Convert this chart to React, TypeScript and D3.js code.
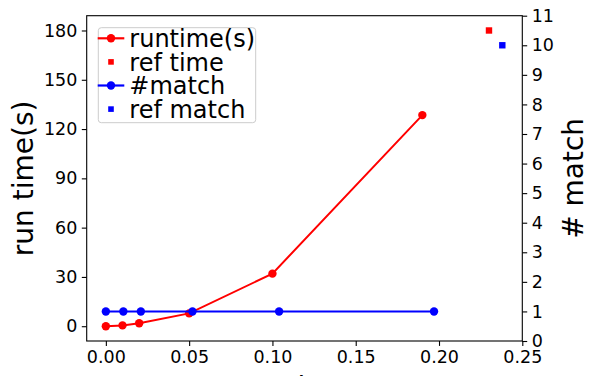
import { useEffect, useRef } from "react";
import * as d3 from "d3";

// runtime series (left axis)
const runtimeX = [0, 0.01, 0.02, 0.05, 0.1, 0.19];
const runtimeY = [0, 0.5, 1.8, 7.8, 32, 128.5];
// #match series (right axis)
const matchX = [0, 0.0105, 0.021, 0.052, 0.104, 0.197];
const matchY = [1, 1, 1, 1, 1, 1];
// reference points
const refTimeX = [0.23];
const refTimeY = [180];
const refMatchX = [0.238];
const refMatchY = [10];

const xTicks = [0, 0.05, 0.1, 0.15, 0.2, 0.25];
const leftTicks = [0, 30, 60, 90, 120, 150, 180];
const rightTicks = [0, 1, 2, 3, 4, 5, 6, 7, 8, 9, 10, 11];

const legendLabels = ["runtime(s)", "ref time", "#match", "ref match"];

const FONT = "DejaVu Sans, sans-serif";

function DualAxisChart({ width, height }: { width: number; height: number }) {
    const svgRef = useRef<SVGSVGElement | null>(null);

    useEffect(() => {
        const svg = d3.select(svgRef.current);
        svg.selectAll("*").remove();

        const left = 86.7;
        const right = 522.3;
        const top = 15.7;
        const bottom = 341;

        const x = d3.scaleLinear().domain([-0.0115, 0.25]).range([left, right]);
        const yL = d3.scaleLinear().domain([-9, 189]).range([bottom, top]);
        const yR = d3.scaleLinear().domain([0, 11]).range([bottom, top]);

        svg.append("rect").attr("width", width).attr("height", height).attr("fill", "#fff");

        // clip for plot area
        svg.append("clipPath").attr("id", "plotclip")
            .append("rect")
            .attr("x", left).attr("y", top)
            .attr("width", right - left).attr("height", bottom - top);

        const plot = svg.append("g").attr("clip-path", "url(#plotclip)");

        // runtime line
        const runData = runtimeX.map((d, i) => [d, runtimeY[i]] as [number, number]);
        plot.append("path")
            .datum(runData)
            .attr("fill", "none")
            .attr("stroke", "#ff0000")
            .attr("stroke-width", 2)
            .attr("d", d3.line<[number, number]>().x((d) => x(d[0])).y((d) => yL(d[1])));
        plot.selectAll("circle.run")
            .data(runData)
            .enter()
            .append("circle")
            .attr("class", "run")
            .attr("cx", (d) => x(d[0]))
            .attr("cy", (d) => yL(d[1]))
            .attr("r", 4.2)
            .attr("fill", "#ff0000");
        plot.selectAll("rect.reft")
            .data(refTimeX.map((d, i) => [d, refTimeY[i]]))
            .enter()
            .append("rect")
            .attr("x", (d) => x(d[0]) - 3.2)
            .attr("y", (d) => yL(d[1]) - 3.2)
            .attr("width", 6.4)
            .attr("height", 6.4)
            .attr("fill", "#ff0000");

        // match line (on top)
        const matchData = matchX.map((d, i) => [d, matchY[i]] as [number, number]);
        plot.append("path")
            .datum(matchData)
            .attr("fill", "none")
            .attr("stroke", "#0000ff")
            .attr("stroke-width", 2)
            .attr("d", d3.line<[number, number]>().x((d) => x(d[0])).y((d) => yR(d[1])));
        plot.selectAll("circle.match")
            .data(matchData)
            .enter()
            .append("circle")
            .attr("class", "match")
            .attr("cx", (d) => x(d[0]))
            .attr("cy", (d) => yR(d[1]))
            .attr("r", 4.2)
            .attr("fill", "#0000ff");
        plot.selectAll("rect.refm")
            .data(refMatchX.map((d, i) => [d, refMatchY[i]]))
            .enter()
            .append("rect")
            .attr("x", (d) => x(d[0]) - 3.2)
            .attr("y", (d) => yR(d[1]) - 3.2)
            .attr("width", 6.4)
            .attr("height", 6.4)
            .attr("fill", "#0000ff");

        // axes
        const styleAxis = (g: any) => {
            g.select(".domain").remove();
            g.selectAll(".tick line").attr("stroke", "#000").attr("stroke-width", 1.1);
            g.selectAll(".tick text")
                .attr("fill", "#000")
                .style("font-family", FONT)
                .style("font-size", "17.5px");
        };

        svg.append("g")
            .attr("transform", `translate(0, ${bottom})`)
            .call(d3.axisBottom(x).tickValues(xTicks).tickFormat(d3.format(".2f")).tickSize(4.9).tickPadding(4.5))
            .call(styleAxis);

        svg.append("g")
            .attr("transform", `translate(${left}, 0)`)
            .call(d3.axisLeft(yL).tickValues(leftTicks).tickSize(4.9).tickPadding(4.5))
            .call(styleAxis);

        svg.append("g")
            .attr("transform", `translate(${right}, 0)`)
            .call(d3.axisRight(yR).tickValues(rightTicks).tickSize(4.9).tickPadding(4.5))
            .call(styleAxis);

        // spines
        svg.append("rect")
            .attr("x", left).attr("y", top)
            .attr("width", right - left).attr("height", bottom - top)
            .attr("fill", "none")
            .attr("stroke", "#000")
            .attr("stroke-width", 1.1);

        // axis labels
        svg.append("text")
            .attr("transform", `translate(33, ${(top + bottom) / 2}) rotate(-90)`)
            .attr("text-anchor", "middle")
            .style("font-family", FONT)
            .style("font-size", "28px")
            .text("run time(s)");

        svg.append("text")
            .attr("transform", `translate(583, ${(top + bottom) / 2}) rotate(-90)`)
            .attr("text-anchor", "middle")
            .style("font-family", FONT)
            .style("font-size", "28px")
            .text("# match");

        // x label falls mostly below the bottom edge, as in the original
        svg.append("text")
            .attr("x", (left + right) / 2)
            .attr("y", 397)
            .attr("text-anchor", "middle")
            .style("font-family", FONT)
            .style("font-size", "28px")
            .text("sample rate");

        // legend
        const lg = svg.append("g");
        lg.append("rect")
            .attr("x", 98.3).attr("y", 27.7)
            .attr("width", 157.4).attr("height", 95)
            .attr("rx", 3)
            .attr("fill", "#fff")
            .attr("fill-opacity", 0.8)
            .attr("stroke", "#cccccc")
            .attr("stroke-width", 1);

        const colors = ["#ff0000", "#ff0000", "#0000ff", "#0000ff"];
        const isLine = [true, false, true, false];
        legendLabels.forEach((label, i) => {
            const cy = 38.3 + i * 23.6;
            if (isLine[i]) {
                lg.append("line")
                    .attr("x1", 97.7).attr("x2", 124.3)
                    .attr("y1", cy).attr("y2", cy)
                    .attr("stroke", colors[i])
                    .attr("stroke-width", 2.2);
                lg.append("circle")
                    .attr("cx", 111).attr("cy", cy).attr("r", 4.2)
                    .attr("fill", colors[i]);
            } else {
                lg.append("rect")
                    .attr("x", 111 - 2.8).attr("y", cy - 2.8)
                    .attr("width", 5.6).attr("height", 5.6)
                    .attr("fill", colors[i]);
            }
            lg.append("text")
                .attr("x", 129.3)
                .attr("y", cy + 8.6)
                .style("font-family", FONT)
                .style("font-size", "24px")
                .text(label);
        });
    }, [width, height]);

    return <svg ref={svgRef} width={width} height={height} style={{ display: "block" }} />;
}

export default function App() {
    return (
        <>
            <style>{`body { margin: 0; }`}</style>
            <DualAxisChart width={598} height={376} />
        </>
    );
}
